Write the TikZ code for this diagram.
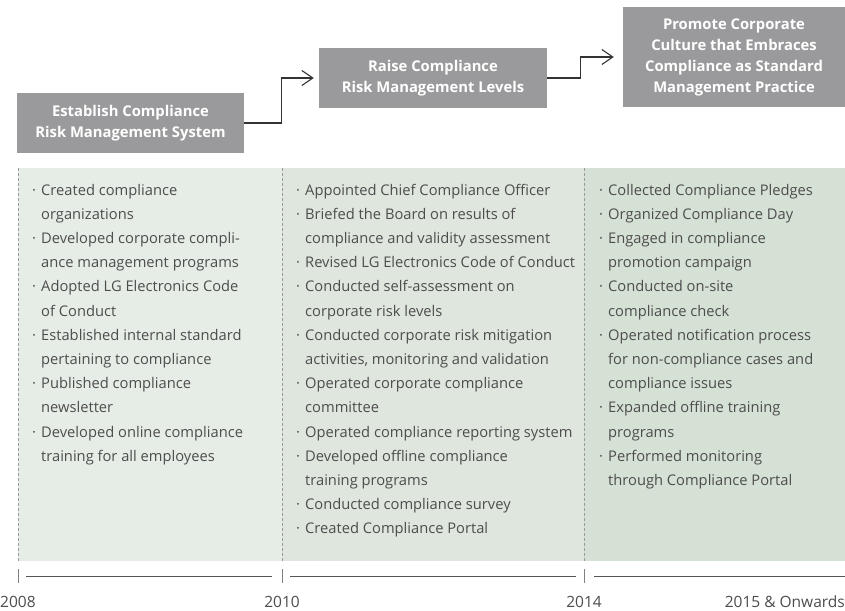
\documentclass[tikz,border=0pt]{standalone}
\usepackage{fontspec}
\setmainfont{Open Sans}
\usetikzlibrary{arrows.meta}
\definecolor{boxgray}{HTML}{9A9A9C}
\definecolor{pA}{HTML}{E6EDE6}
\definecolor{pB}{HTML}{DEE6DE}
\definecolor{pC}{HTML}{D5E1D5}
\definecolor{txt}{HTML}{4D4D4D}
\definecolor{dashc}{HTML}{9A9A9A}
\definecolor{linec}{HTML}{555555}
\definecolor{arrc}{HTML}{333333}
\newcommand{\bitem}[4]{%
  \node[bodytxt,anchor=base] (#1d) at (#2,{195+24.2*#3}) {·};
  \node[bodytxt,anchor=base west] (#1) at (#2+7,{195+24.2*#3}) {#4};}
\newcommand{\citem}[4]{%
  \node[bodytxt,anchor=base west] (#1) at (#2+7,{195+24.2*#3}) {#4};}
\begin{document}
\begin{tikzpicture}[x=1pt,y=-1pt,
  bodytxt/.style={inner sep=0pt,text=txt,font=\fontsize{14.7}{17}\selectfont},
  stagebox/.style={fill=boxgray,text=white,inner sep=0pt,align=center,
    font=\bfseries\fontsize{14.8}{21}\selectfont},
  arr/.style={draw=arrc,line width=1.1pt,-{Straight Barb[length=11pt,width=15pt,line width=1.1pt]}},
  sep/.style={draw=dashc,line width=0.9pt,dash pattern=on 3pt off 2pt},
  tick/.style={draw=gray,line width=1pt},
  axis/.style={draw=linec,line width=1pt},
  year/.style={inner sep=0pt,text=txt,font=\fontsize{15.5}{18}\selectfont}]
\useasboundingbox (0,0) rectangle (845,610);
% panels
\fill[pA] (18,168) rectangle (282,561);
\fill[pB] (282,168) rectangle (584,561);
\fill[pC] (584,168) rectangle (845,561);
\draw[sep] (18,168) -- (18,561);
\draw[sep] (282,168) -- (282,561);
\draw[sep] (584,168) -- (584,561);
% stage boxes
\node[stagebox,minimum width=227pt,minimum height=60pt] (b1) at (130.5,123) {Establish Compliance\\Risk Management System};
\node[stagebox,minimum width=228pt,minimum height=60pt] (b2) at (433,78) {Raise Compliance\\Risk Management Levels};
\node[stagebox,minimum width=222pt,minimum height=100pt] (b3) at (734,57) {Promote Corporate\\Culture that Embraces\\Compliance as Standard\\Management Practice};
\draw[arr] (b1.east) -- ++(37,0) |- ([xshift=-5pt]b2.west);
\draw[arr] (b2.east) -- ++(33,0) |- ([xshift=-9pt]b3.west);
% column 1
\bitem{c1a}{34}{0}{Created compliance}
\citem{c1b}{34}{1}{organizations}
\bitem{c1c}{34}{2}{Developed corporate compli-}
\citem{c1e}{34}{3}{ance management programs}
\bitem{c1f}{34}{4}{Adopted LG Electronics Code}
\citem{c1g}{34}{5}{of Conduct}
\bitem{c1h}{34}{6}{Established internal standard}
\citem{c1i}{34}{7}{pertaining to compliance}
\bitem{c1j}{34}{8}{Published compliance}
\citem{c1k}{34}{9}{newsletter}
\bitem{c1l}{34}{10}{Developed online compliance}
\citem{c1m}{34}{11}{training for all employees}
% column 2
\bitem{c2a}{298}{0}{Appointed Chief Compliance Officer}
\bitem{c2b}{298}{1}{Briefed the Board on results of}
\citem{c2c}{298}{2}{compliance and validity assessment}
\bitem{c2e}{298}{3}{Revised LG Electronics Code of Conduct}
\bitem{c2f}{298}{4}{Conducted self-assessment on}
\citem{c2g}{298}{5}{corporate risk levels}
\bitem{c2h}{298}{6}{Conducted corporate risk mitigation}
\citem{c2i}{298}{7}{activities, monitoring and validation}
\bitem{c2j}{298}{8}{Operated corporate compliance}
\citem{c2k}{298}{9}{committee}
\bitem{c2l}{298}{10}{Operated compliance reporting system}
\bitem{c2m}{298}{11}{Developed offline compliance}
\citem{c2n}{298}{12}{training programs}
\bitem{c2o}{298}{13}{Conducted compliance survey}
\bitem{c2p}{298}{14}{Created Compliance Portal}
% column 3
\bitem{c3a}{601}{0}{Collected Compliance Pledges}
\bitem{c3b}{601}{1}{Organized Compliance Day}
\bitem{c3c}{601}{2}{Engaged in compliance}
\citem{c3e}{601}{3}{promotion campaign}
\bitem{c3f}{601}{4}{Conducted on-site}
\citem{c3g}{601}{5}{compliance check}
\bitem{c3h}{601}{6}{Operated notification process}
\citem{c3i}{601}{7}{for non-compliance cases and}
\citem{c3j}{601}{8}{compliance issues}
\bitem{c3k}{601}{9}{Expanded offline training}
\citem{c3l}{601}{10}{programs}
\bitem{c3m}{601}{11}{Performed monitoring}
\citem{c3n}{601}{12}{through Compliance Portal}
% timeline
\coordinate (t1) at (18,576);
\coordinate (t2) at (282,576);
\coordinate (t3) at (584,576);
\coordinate (tend) at (845,576);
\draw[tick] ([yshift=-7pt]t1) -- ([yshift=7pt]t1);
\draw[tick] ([yshift=-7pt]t2) -- ([yshift=7pt]t2);
\draw[tick] ([yshift=-7pt]t3) -- ([yshift=7pt]t3);
\draw[axis] ([xshift=8pt]t1) -- ([xshift=-10pt]t2);
\draw[axis] ([xshift=8pt]t2) -- ([xshift=-8pt]t3);
\draw[axis] ([xshift=10pt]t3) -- (tend);
\node[year,anchor=base west] (y1) at (0,607) {2008};
\node[year,anchor=base] (y2) at (282,607) {2010};
\node[year,anchor=base] (y3) at (584,607) {2014};
\node[year,anchor=base east] (y4) at (845,607) {2015 \& Onwards};
\end{tikzpicture}
\end{document}
